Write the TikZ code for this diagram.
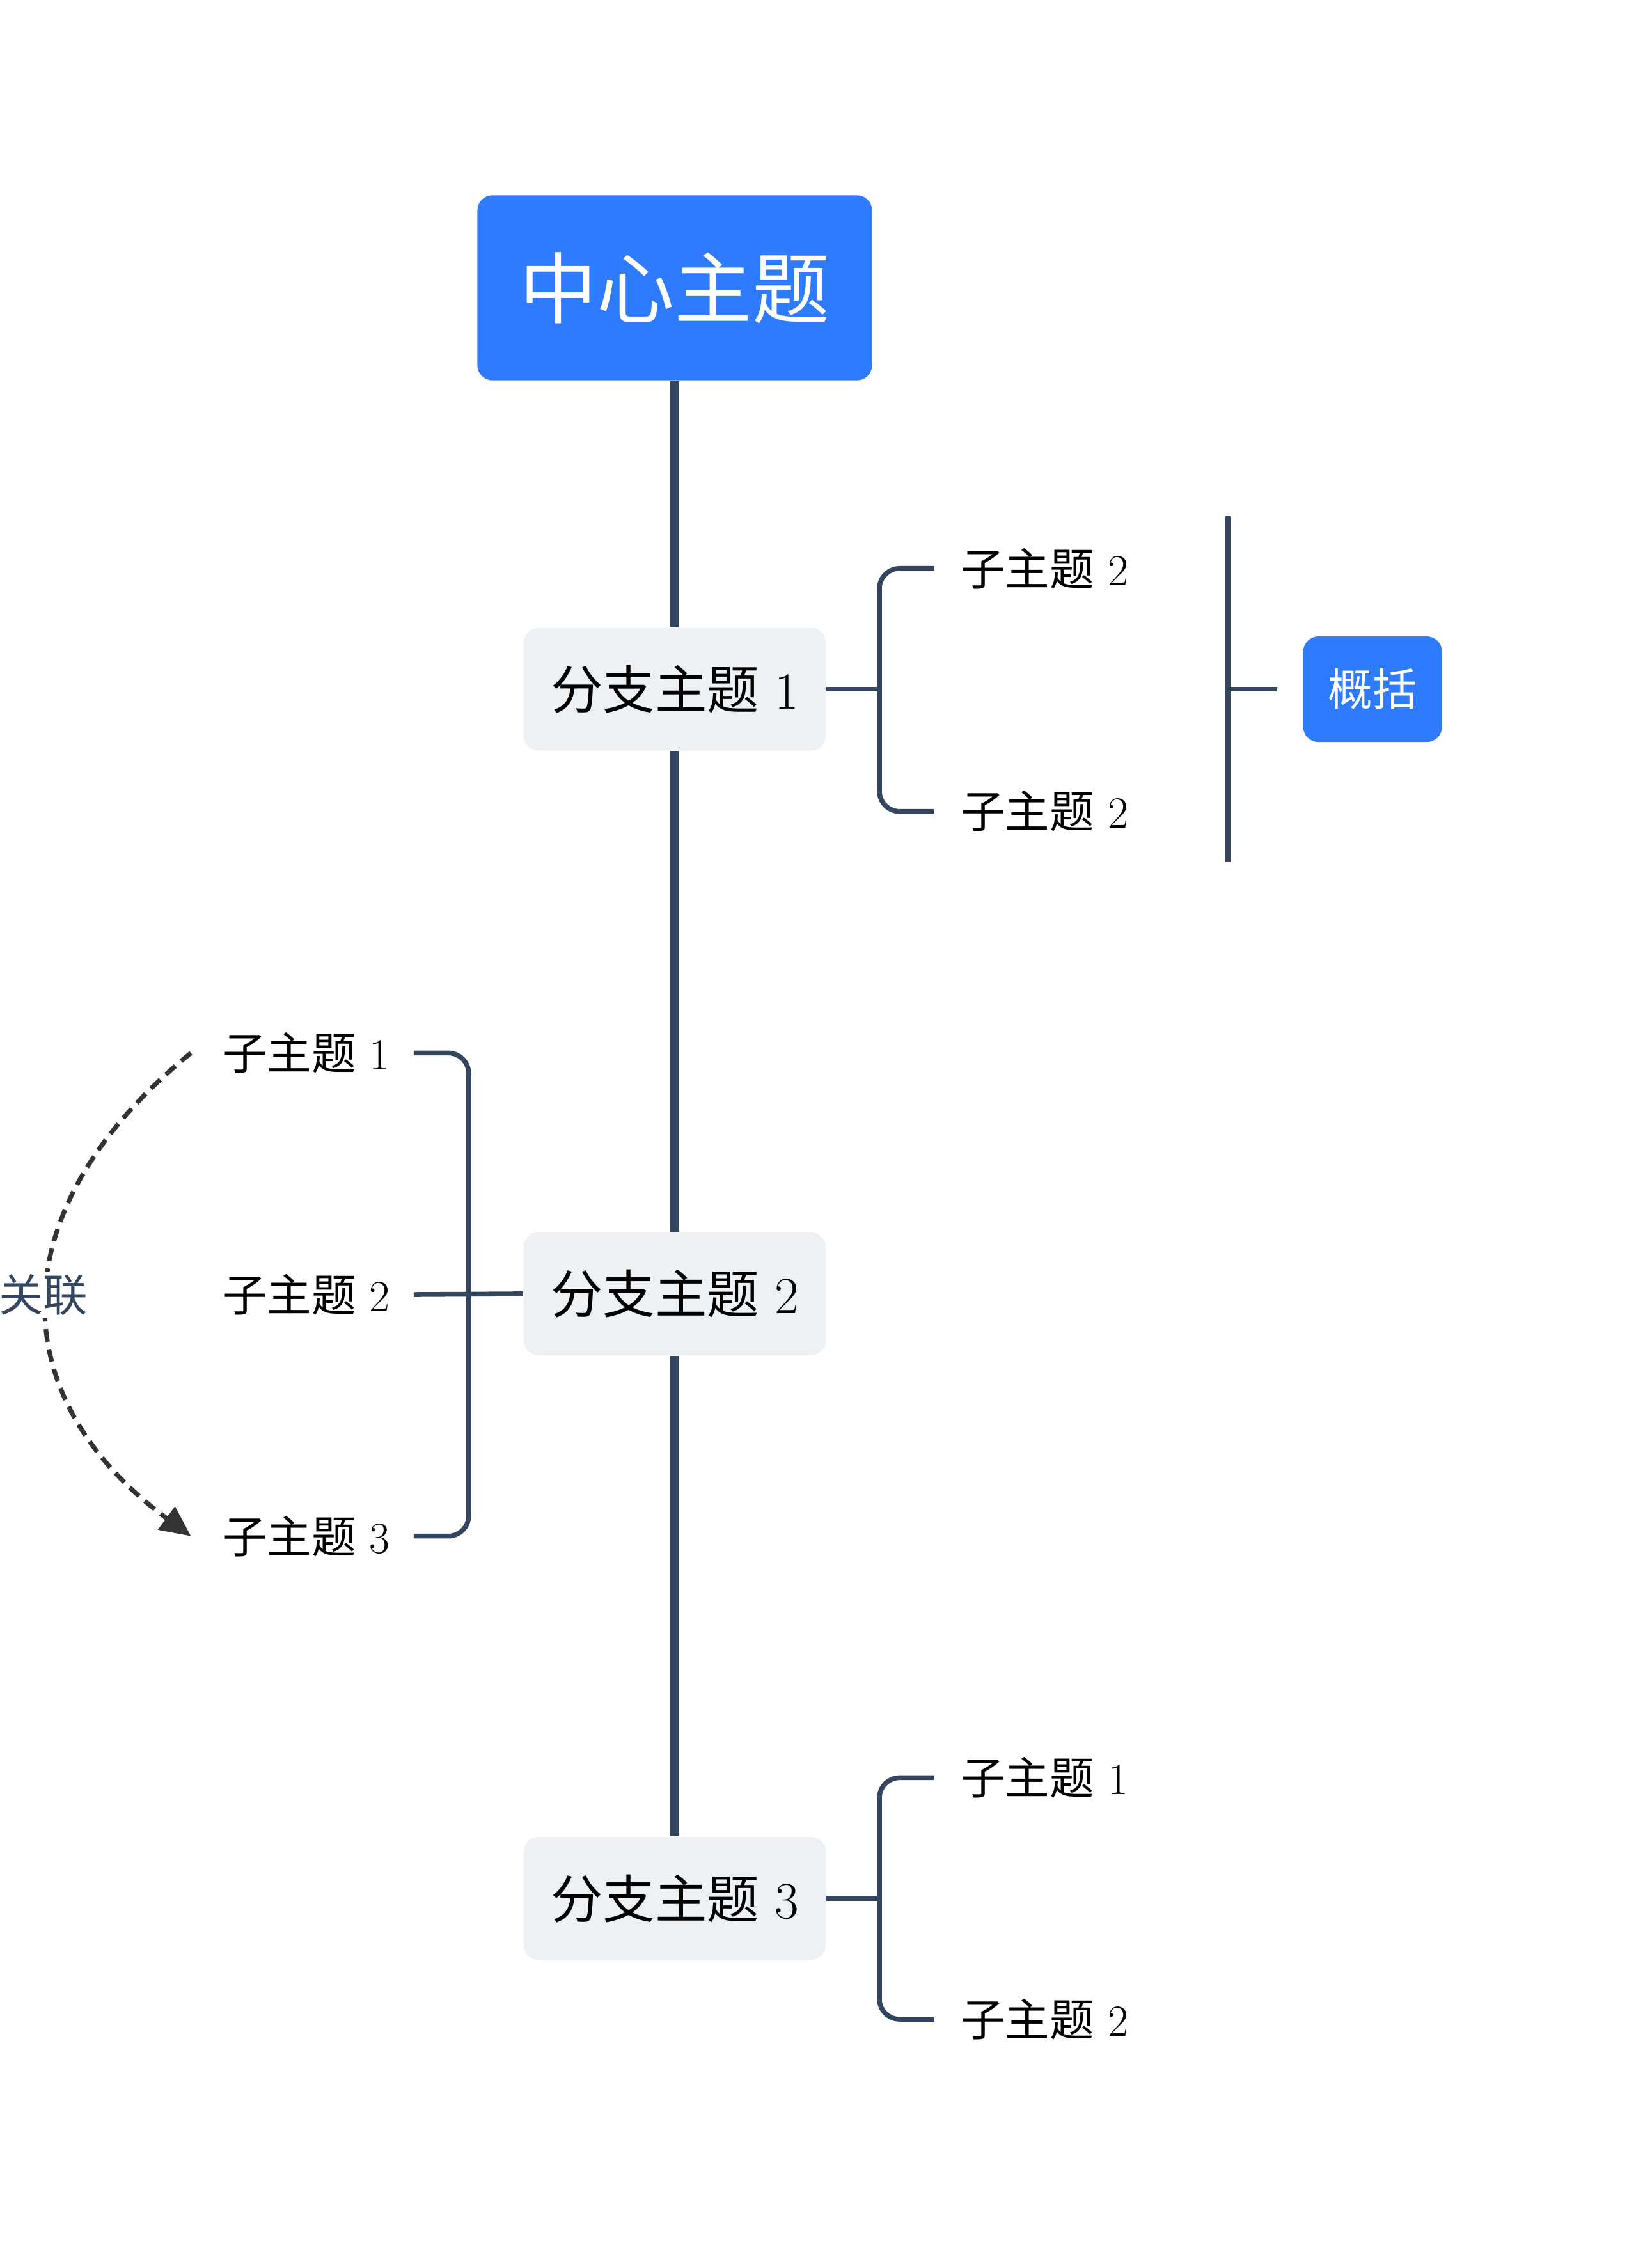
\documentclass[tikz,border=0pt]{standalone}
\usepackage{fontspec}
\newfontfamily\cjk{Noto Sans CJK SC}
\usetikzlibrary{arrows.meta}
\definecolor{mblue}{HTML}{2F7BFF}
\definecolor{lnc}{HTML}{34465E}
\definecolor{bfill}{HTML}{EEF1F4}
\tikzset{
 px/.style={x=0.02cm,y=-0.02cm},
 centerbox/.style={fill=mblue,rounded corners=6pt,minimum width=5.46cm,minimum height=2.56cm,text=white,font=\cjk\fontsize{30.5}{32}\selectfont,inner sep=0},
 branchbox/.style={fill=bfill,rounded corners=6pt,minimum width=4.18cm,minimum height=1.7cm,font=\fontsize{20.5}{22}\selectfont,inner sep=0},
 subtxt/.style={font=\fontsize{17.5}{19}\selectfont,inner sep=0},
 sumbox/.style={fill=mblue,rounded corners=6pt,minimum width=1.92cm,minimum height=1.46cm,text=white,font=\cjk\fontsize{17.5}{19}\selectfont,inner sep=0},
 trunk/.style={draw=lnc,line width=3.4pt},
 twig/.style={draw=lnc,line width=1.9pt,rounded corners=8pt},
}
\begin{document}
\begin{tikzpicture}[px]
\useasboundingbox (0,0) rectangle (1131,1568);
\node[centerbox] (c) at (466.5,199) {中心主题};
\node[branchbox] (b1) at (466.5,476.5) {{\cjk 分支主题} 1};
\node[branchbox] (b2) at (466.5,894.5) {{\cjk 分支主题} 2};
\node[branchbox] (b3) at (466.5,1312.5) {{\cjk 分支主题} 3};
\draw[trunk] (c.south) -- (b1.north);
\draw[trunk] (b1.south) -- (b2.north);
\draw[trunk] (b2.south) -- (b3.north);
% branch 1
\node[subtxt,anchor=west] (s11) at (664,393) {{\cjk 子主题} 2};
\node[subtxt,anchor=west] (s12) at (664,561) {{\cjk 子主题} 2};
\coordinate (e11) at (646,393); \coordinate (e12) at (646,561);
\draw[twig] (b1.east) -- (608,476.5);
\draw[twig] (e11) -- (608,393) -- (608,561) -- (e12);
% summary
\coordinate (su1) at (849,357); \coordinate (su2) at (849,596);
\node[sumbox] (sum) at (949,476.5) {概括};
\draw[twig,rounded corners=0] (su1) -- (su2);
\draw[twig] (849,476.5) -- (883,476.5);
% branch 2
\node[subtxt,anchor=east] (s21) at (270,728) {{\cjk 子主题} 1};
\node[subtxt,anchor=east] (s22) at (270,895) {{\cjk 子主题} 2};
\node[subtxt,anchor=east] (s23) at (270,1062) {{\cjk 子主题} 3};
\coordinate (e21) at (286,728); \coordinate (e22) at (286,895); \coordinate (e23) at (286,1062);
\draw[twig] (b2.west) -- (e22);
\draw[twig] (e21) -- (324,728) -- (324,1062) -- (e23);
% relation
\coordinate (r1) at (132,728); \coordinate (r2) at (132,1062);
\draw[draw=black!80,line width=1.8pt,dash pattern=on 5pt off 3pt,-{Triangle[length=12pt,width=11pt]}] (r1) .. controls (0,835) and (0,965) .. (r2);
\node[font=\cjk\fontsize{17.5}{19}\selectfont,text=lnc,fill=white,inner sep=1pt] (rl) at (30,895) {关联};
% branch 3
\node[subtxt,anchor=west] (s31) at (664,1229) {{\cjk 子主题} 1};
\node[subtxt,anchor=west] (s32) at (664,1396) {{\cjk 子主题} 2};
\coordinate (e31) at (646,1229); \coordinate (e32) at (646,1396);
\draw[twig] (b3.east) -- (608,1312.5);
\draw[twig] (e31) -- (608,1229) -- (608,1396) -- (e32);
\end{tikzpicture}
\end{document}
